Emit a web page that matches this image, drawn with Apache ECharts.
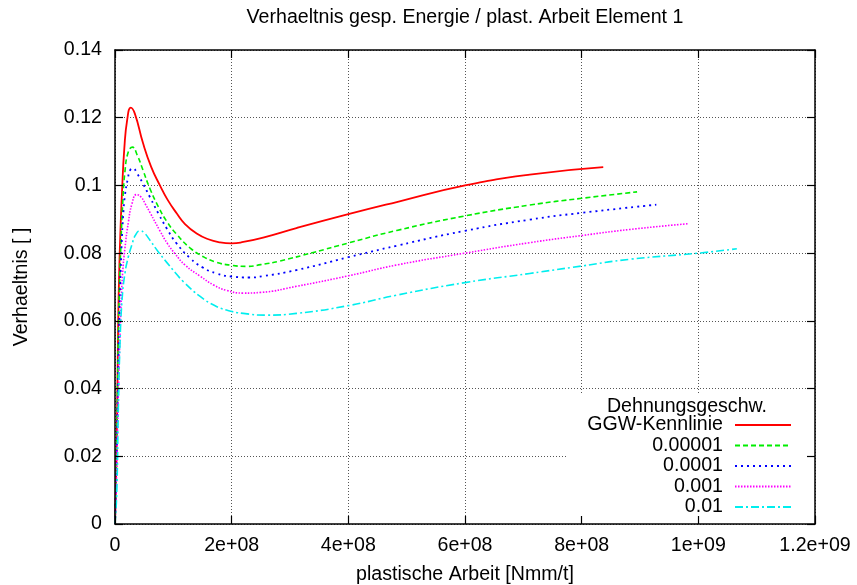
<!DOCTYPE html>
<html>
<head>
<meta charset="utf-8">
<script src="https://cdn.jsdelivr.net/npm/echarts@6/dist/echarts.min.js"></script>
<style>
html,body{margin:0;padding:0;background:#fff;}
#c{width:857px;height:585px;}
</style>
</head>
<body>
<div id="c"></div>
<script>
// ---- data ----
const chartTitle = 'Verhaeltnis gesp. Energie / plast. Arbeit Element 1';
const xAxisName = 'plastische Arbeit [Nmm/t]';
const yAxisName = 'Verhaeltnis [ ]';
const legendTitle = 'Dehnungsgeschw.';
const seriesNames = ['GGW-Kennlinie', '0.00001', '0.0001', '0.001', '0.01'];
const xTickLabels = ['0', '2e+08', '4e+08', '6e+08', '8e+08', '1e+09', '1.2e+09'];
const yTickLabels = ['0', '0.02', '0.04', '0.06', '0.08', '0.1', '0.12', '0.14'];

const ggwX = [0, 1.5e6, 3e6, 4.5e6, 5.5e6, 7e6, 9e6, 1.2e7, 1.6e7, 2.1e7, 2.7e7, 3.4e7, 4.8e7, 6.2e7, 7.7e7, 9e7, 1.06e8, 1.2e8, 1.4e8, 1.6e8, 1.8e8, 2e8, 2.2e8, 2.54e8, 3.11e8, 4e8, 4.83e8, 6e8, 7.11e8, 8.37e8];
const ggwY = [0, 0.01, 0.025, 0.045, 0.06, 0.073, 0.085, 0.098, 0.111, 0.1195, 0.123, 0.1212, 0.1125, 0.1055, 0.1, 0.0958, 0.0917, 0.0886, 0.0858, 0.0841, 0.0832, 0.0829, 0.0833, 0.0846, 0.0874, 0.0915, 0.0951, 0.1, 0.1032, 0.1054];

const r1X = [0, 1.5e6, 3e6, 4.5e6, 6e6, 8e6, 1e7, 1.3e7, 1.7e7, 2.3e7, 3.0e7, 3.8e7, 4.8e7, 6e7, 7.5e7, 8.9e7, 1.05e8, 1.29e8, 1.5e8, 1.74e8, 2e8, 2.26e8, 2.5e8, 2.83e8, 3.4e8, 4e8, 4.83e8, 6e8, 7.11e8, 8e8, 8.95e8];
const r1Y = [0, 0.01, 0.025, 0.042, 0.058, 0.072, 0.082, 0.094, 0.104, 0.110, 0.1113, 0.109, 0.1045, 0.099, 0.0935, 0.0893, 0.0857, 0.0815, 0.0791, 0.0773, 0.0764, 0.0761, 0.0766, 0.0777, 0.0802, 0.083, 0.0867, 0.091, 0.0942, 0.0962, 0.0981];

const r2X = [0, 1.5e6, 3e6, 5e6, 7e6, 9e6, 1.15e7, 1.4e7, 1.7e7, 2.2e7, 2.6e7, 3.1e7, 3.8e7, 4.8e7, 6e7, 7.5e7, 8.9e7, 1.05e8, 1.29e8, 1.5e8, 1.74e8, 2e8, 2.3e8, 2.54e8, 3.11e8, 4e8, 4.83e8, 6e8, 7.11e8, 8e8, 9.28e8];
const r2Y = [0, 0.01, 0.022, 0.04, 0.058, 0.071, 0.083, 0.091, 0.097, 0.102, 0.1045, 0.105, 0.1035, 0.1005, 0.0965, 0.0915, 0.0872, 0.083, 0.0785, 0.0758, 0.074, 0.0731, 0.0728, 0.0732, 0.075, 0.0788, 0.0822, 0.0866, 0.0899, 0.0919, 0.0943];

const r3X = [0, 2e6, 4e6, 6e6, 8e6, 1.05e7, 1.3e7, 1.7e7, 2.3e7, 2.9e7, 3.7e7, 4.5e7, 5.2e7, 6e7, 7.7e7, 9e7, 1.03e8, 1.2e8, 1.46e8, 1.7e8, 1.91e8, 2.2e8, 2.5e8, 3.11e8, 4e8, 4.83e8, 6e8, 7.11e8, 8e8, 8.83e8, 9.83e8];
const r3Y = [0, 0.01, 0.025, 0.04, 0.053, 0.065, 0.074, 0.0814, 0.0892, 0.0945, 0.0973, 0.0965, 0.0945, 0.092, 0.0866, 0.0828, 0.0798, 0.0765, 0.0732, 0.0705, 0.069, 0.0682, 0.0684, 0.0702, 0.0733, 0.0765, 0.08, 0.0831, 0.0852, 0.087, 0.0887];

const r4X = [0, 3e6, 5.7e6, 8.6e6, 1.2e7, 1.7e7, 2.3e7, 2.9e7, 3.5e7, 4.3e7, 5e7, 6e7, 7.5e7, 8.9e7, 1.03e8, 1.17e8, 1.46e8, 1.7e8, 1.91e8, 2.2e8, 2.6e8, 3.11e8, 4e8, 4.83e8, 6e8, 7.11e8, 8e8, 8.83e8, 1e9, 1.066e9];
const r4Y = [0, 0.009, 0.0336, 0.0534, 0.066, 0.074, 0.079, 0.0825, 0.0853, 0.0866, 0.086, 0.0838, 0.0802, 0.0772, 0.0743, 0.0716, 0.0672, 0.0646, 0.0632, 0.0622, 0.0617, 0.0622, 0.0645, 0.0676, 0.0713, 0.074, 0.0762, 0.0782, 0.08, 0.0813];

const seriesColors = ['#ff0000', '#00ee00', '#0000ff', '#ff00ff', '#00eeee'];

// ---- build ----
function zip(xs, ys) { return xs.map((x, i) => [x, ys[i]]); }
const allData = [zip(ggwX, ggwY), zip(r1X, r1Y), zip(r2X, r2Y), zip(r3X, r3Y), zip(r4X, r4Y)];
const dashTypes = ['solid', [5, 3], [2, 4], [1.5, 1.5], [8, 3, 2, 3]];
const widths = [1.8, 1.6, 1.8, 1.6, 1.6];

const FS = 19.6;
const FONT = 'Liberation Sans, Arial, sans-serif';

const chart = echarts.init(document.getElementById('c'), null, {renderer: 'canvas'});

const baseAxis = {type: 'value', min: 0, gridIndex: 0};
const frameLine = {show: true, onZero: false, lineStyle: {color: '#000', width: 1.5}};
const frameTick = {show: true, inside: true, length: 8, lineStyle: {color: '#000', width: 1.2}};

const option = {
  animation: false,
  backgroundColor: '#fff',
  grid: {left: 115, right: 42, top: 50, bottom: 61, containLabel: false, outerBoundsMode: 'none'},
  xAxis: [
    Object.assign({}, baseAxis, {
      max: 1.2e9, interval: 2e8, position: 'bottom', z: 0,
      axisLine: {show: false}, axisTick: {show: false}, axisLabel: {show: false},
      splitLine: {show: true, lineStyle: {type: [1, 2], color: '#555', width: 1}}
    }),
    Object.assign({}, baseAxis, {
      max: 1.2e9, interval: 2e8, position: 'bottom', z: 5,
      axisLine: frameLine, axisTick: frameTick,
      axisLabel: {
        show: true, margin: 12, color: '#000', fontSize: FS, fontFamily: FONT,
        formatter: v => xTickLabels[Math.round(v / 2e8)]
      },
      splitLine: {show: false},
      name: xAxisName, nameLocation: 'middle', nameGap: 41,
      nameTextStyle: {color: '#000', fontSize: FS, fontFamily: FONT}
    }),
    Object.assign({}, baseAxis, {
      max: 1.2e9, interval: 2e8, position: 'top', z: 5,
      axisLine: frameLine, axisTick: frameTick, axisLabel: {show: false},
      splitLine: {show: false}
    })
  ],
  yAxis: [
    Object.assign({}, baseAxis, {
      max: 0.14, interval: 0.02, position: 'left', z: 0,
      axisLine: {show: false}, axisTick: {show: false}, axisLabel: {show: false},
      splitLine: {show: true, lineStyle: {type: [1, 2], color: '#555', width: 1}}
    }),
    Object.assign({}, baseAxis, {
      max: 0.14, interval: 0.02, position: 'left', z: 5,
      axisLine: frameLine, axisTick: frameTick,
      axisLabel: {
        show: true, margin: 13, color: '#000', fontSize: FS, fontFamily: FONT,
        formatter: v => yTickLabels[Math.round(v / 0.02)]
      },
      splitLine: {show: false},
      name: yAxisName, nameLocation: 'middle', nameGap: 83, nameRotate: 90,
      nameTextStyle: {color: '#000', fontSize: FS, fontFamily: FONT}
    }),
    Object.assign({}, baseAxis, {
      max: 0.14, interval: 0.02, position: 'right', z: 5,
      axisLine: frameLine, axisTick: frameTick, axisLabel: {show: false},
      splitLine: {show: false}
    })
  ],
  legend: {
    orient: 'vertical', align: 'right', left: 583, top: 415, padding: 0,
    itemGap: 0.5, itemWidth: 56, itemHeight: 14, z: 6,
    data: seriesNames,
    itemStyle: {color: 'transparent', borderColor: 'transparent', borderWidth: 0, opacity: 0},
    formatter: name => '{a|' + name + '}',
    textStyle: {
      color: '#000', fontSize: FS, fontFamily: FONT, lineHeight: 20,
      rich: {a: {width: 140, align: 'right', padding: [0, 7, 0, 0], fontSize: FS, fontFamily: FONT, lineHeight: 20}}
    }
  },
  graphic: [
    {type: 'rect', z: 1, silent: true, shape: {x: 567, y: 395, width: 246, height: 128}, style: {fill: '#fff'}},
    {type: 'text', z: 6, x: 465, y: 18, style: {text: chartTitle, fill: '#000', font: FS + 'px ' + FONT, textAlign: 'center', textVerticalAlign: 'middle'}},
    {type: 'text', z: 6, x: 687, y: 407, style: {text: legendTitle, fill: '#000', font: FS + 'px ' + FONT, textAlign: 'center', textVerticalAlign: 'middle'}}
  ],
  series: allData.map((d, i) => ({
    type: 'line', name: seriesNames[i], data: d,
    xAxisIndex: 0, yAxisIndex: 0, z: 2,
    showSymbol: false, symbol: 'none',
    smooth: 0.5,
    color: seriesColors[i],
    lineStyle: {color: seriesColors[i], width: widths[i], type: dashTypes[i]}
  }))
};
chart.setOption(option);
</script>
</body>
</html>
